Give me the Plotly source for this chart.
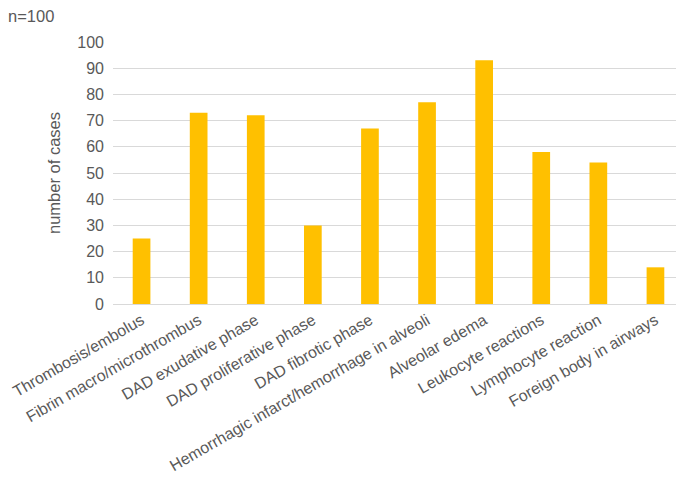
import plotly.graph_objects as go

categories = [
    "Thrombosis/embolus",
    "Fibrin macro/microthrombus",
    "DAD exudative phase",
    "DAD proliferative phase",
    "DAD fibrotic phase",
    "Hemorrhagic infarct/hemorrhage in alveoli",
    "Alveolar edema",
    "Leukocyte reactions",
    "Lymphocyte reaction",
    "Foreign body in airways",
]
cases = [25, 73, 72, 30, 67, 77, 93, 58, 54, 14]
y_ticks = [0, 10, 20, 30, 40, 50, 60, 70, 80, 90, 100]

fig = go.Figure(
    go.Bar(x=categories, y=cases, marker=dict(color="#FFC000", line=dict(width=0)))
)

fig.update_layout(
    width=676,
    height=472,
    paper_bgcolor="white",
    plot_bgcolor="white",
    bargap=0.69,
    margin=dict(l=105, r=0, t=34, b=176),
    font=dict(family="Liberation Sans, Arial, sans-serif", color="#595959", size=16),
    title=dict(
        text="n=100",
        xref="container", yref="container",
        x=0, y=1, xanchor="left", yanchor="top",
        pad=dict(t=2, l=0),
        font=dict(size=16.5, color="#595959"),
    ),
    showlegend=False,
)

fig.update_yaxes(
    range=[0, 100],
    tickvals=y_ticks,
    showgrid=True,
    gridcolor="#D9D9D9",
    gridwidth=1,
    zeroline=False,
    showline=False,
    automargin=False,
    tickfont=dict(size=16, color="#595959"),
    ticklabelstandoff=8,
    title=dict(text="number of cases", font=dict(size=16.5, color="#595959"), standoff=12),
)

fig.update_xaxes(
    tickangle=-30,
    showline=True,
    linecolor="#D9D9D9",
    linewidth=1,
    showgrid=False,
    automargin=False,
    tickfont=dict(size=16, color="#595959"),
    ticks="",
)

fig.write_html("out.html")
